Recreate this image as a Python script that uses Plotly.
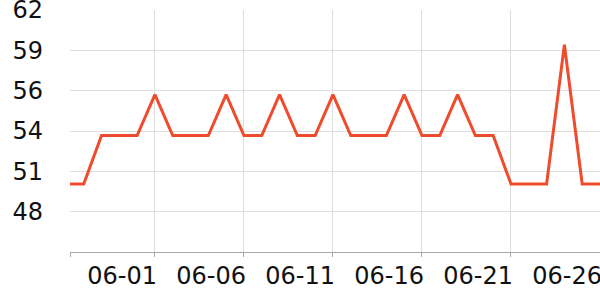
import plotly.graph_objects as go

dates = ["2024-05-27", "2024-05-28", "2024-05-29", "2024-05-30", "2024-05-31",
         "2024-06-01", "2024-06-02", "2024-06-03", "2024-06-04", "2024-06-05",
         "2024-06-06", "2024-06-07", "2024-06-08", "2024-06-09", "2024-06-10",
         "2024-06-11", "2024-06-12", "2024-06-13", "2024-06-14", "2024-06-15",
         "2024-06-16", "2024-06-17", "2024-06-18", "2024-06-19", "2024-06-20",
         "2024-06-21", "2024-06-22", "2024-06-23", "2024-06-24", "2024-06-25",
         "2024-06-26"]
values = [50.5, 50.5, 53.7, 53.7, 53.7,
          56.4, 53.7, 53.7, 53.7, 56.4,
          53.7, 53.7, 56.4, 53.7, 53.7,
          56.4, 53.7, 53.7, 53.7, 56.4,
          53.7, 53.7, 56.4, 53.7, 53.7,
          50.5, 50.5, 50.5, 59.7, 50.5,
          50.5]

x_ticks = ["2024-05-27 05:30", "2024-06-01", "2024-06-06", "2024-06-11",
           "2024-06-16", "2024-06-21", "2024-06-26"]
x_labels = ["", "06-01", "06-06", "06-11", "06-16", "06-21", "06-26"]

y_ticks = [48 + 2 / 3, 51 + 1 / 3, 54, 56 + 2 / 3, 59 + 1 / 3, 62]
y_labels = ["48", "51", "54", "56", "59", "62"]

fig = go.Figure()
fig.add_trace(go.Scatter(
    x=dates, y=values, mode="lines",
    line=dict(color="#ef4b2d", width=3),
    hoverinfo="skip",
))

font = dict(family="DejaVu Sans", size=24, color="#111111")

fig.update_layout(
    width=600, height=300,
    margin=dict(l=70, r=0, t=10, b=48),
    paper_bgcolor="white", plot_bgcolor="white",
    showlegend=False,
    xaxis=dict(
        type="date",
        range=["2024-05-27 05:30", "2024-06-26"],
        tickvals=x_ticks, ticktext=x_labels,
        ticklabelposition="outside left",
        ticklabeloverflow="allow",
        automargin=False,
        showgrid=True, gridcolor="#dddddd", gridwidth=1,
        showline=True, linecolor="#aaaaaa", linewidth=1,
        ticks="outside", ticklen=4, tickcolor="#aaaaaa",
        tickfont=font, zeroline=False,
        ticklabelstandoff=2,
        ticklabelshift=3,
    ),
    yaxis=dict(
        range=[46, 62.001],
        tickvals=y_ticks, ticktext=y_labels,
        ticklabeloverflow="allow",
        automargin=False,
        showgrid=True, gridcolor="#dddddd", gridwidth=1,
        showline=False, zeroline=False,
        ticks="", tickfont=font,
        ticklabelstandoff=26,
    ),
)

fig.write_html("out.html")
